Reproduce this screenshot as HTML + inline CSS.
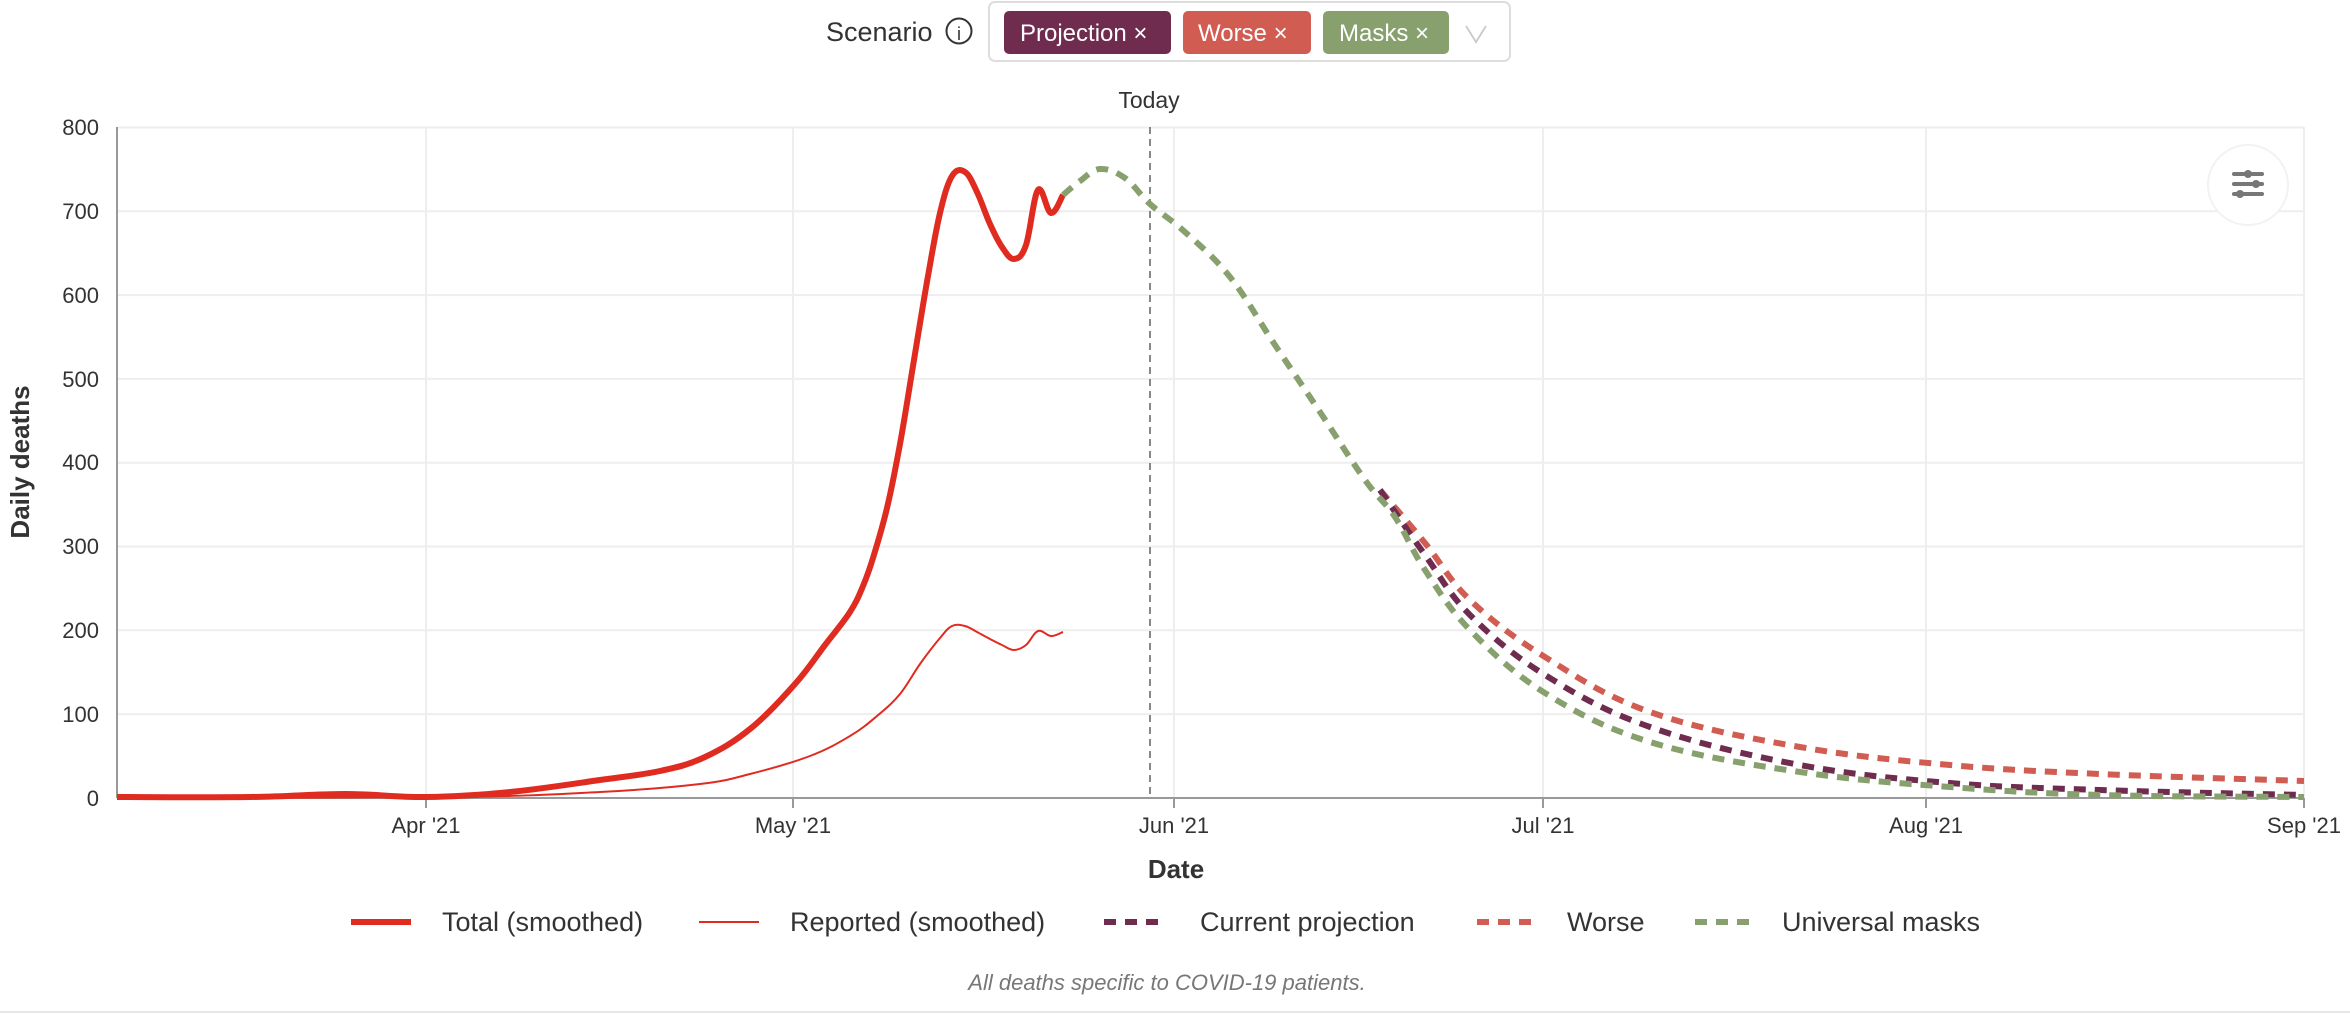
<!DOCTYPE html>
<html><head><meta charset="utf-8"><style>
html,body{margin:0;padding:0;background:#fff;}
svg{display:block;font-family:"Liberation Sans",sans-serif;}
</style></head><body>
<svg id="s" width="2350" height="1014" viewBox="0 0 2350 1014" xmlns="http://www.w3.org/2000/svg">
<text x="826" y="41" font-size="27" fill="#333">Scenario</text>
<circle cx="959" cy="31" r="12.5" fill="none" stroke="#333" stroke-width="2"/>
<text x="959" y="40" font-size="18" fill="#333" text-anchor="middle">i</text>
<rect x="989" y="2" width="521" height="59" rx="6" fill="#fff" stroke="#ddd" stroke-width="2"/>
<rect x="1004" y="11" width="167" height="43" rx="5" fill="#6f2c4f"/>
<text x="1020" y="41" font-size="24" fill="#fff">Projection ×</text>
<rect x="1183" y="11" width="128" height="43" rx="5" fill="#d05c52"/>
<text x="1198" y="41" font-size="24" fill="#fff">Worse ×</text>
<rect x="1323" y="11" width="126" height="43" rx="5" fill="#87a06e"/>
<text x="1339" y="41" font-size="24" fill="#fff">Masks ×</text>
<polyline points="1466,26 1476,42 1486,26" fill="none" stroke="#ccc" stroke-width="2"/>
<text x="1149" y="108" font-size="23" fill="#333" text-anchor="middle">Today</text>
<g stroke="#eeeeee" stroke-width="2">
<line x1="117" y1="127.5" x2="2304" y2="127.5"/><line x1="117" y1="211.3" x2="2304" y2="211.3"/>
<line x1="117" y1="295.1" x2="2304" y2="295.1"/><line x1="117" y1="378.9" x2="2304" y2="378.9"/>
<line x1="117" y1="462.7" x2="2304" y2="462.7"/><line x1="117" y1="546.5" x2="2304" y2="546.5"/>
<line x1="117" y1="630.3" x2="2304" y2="630.3"/><line x1="117" y1="714.1" x2="2304" y2="714.1"/>
<line x1="426" y1="127" x2="426" y2="798"/><line x1="793" y1="127" x2="793" y2="798"/>
<line x1="1174" y1="127" x2="1174" y2="798"/><line x1="1543" y1="127" x2="1543" y2="798"/>
<line x1="1926" y1="127" x2="1926" y2="798"/><line x1="2304" y1="127" x2="2304" y2="798"/>
</g>
<line x1="117" y1="127" x2="117" y2="798" stroke="#999" stroke-width="2"/>
<line x1="117" y1="798" x2="2304" y2="798" stroke="#999" stroke-width="2"/>
<g stroke="#999" stroke-width="2">
<line x1="426" y1="798" x2="426" y2="808"/><line x1="793" y1="798" x2="793" y2="808"/><line x1="1174" y1="798" x2="1174" y2="808"/><line x1="1543" y1="798" x2="1543" y2="808"/><line x1="1926" y1="798" x2="1926" y2="808"/><line x1="2304" y1="798" x2="2304" y2="808"/>
</g>
<g font-size="22" fill="#333" text-anchor="end">
<text x="99" y="135">800</text><text x="99" y="219">700</text><text x="99" y="303">600</text><text x="99" y="387">500</text><text x="99" y="470">400</text><text x="99" y="554">300</text><text x="99" y="638">200</text><text x="99" y="722">100</text><text x="99" y="806">0</text>
</g>
<g font-size="22" fill="#333" text-anchor="middle">
<text x="426" y="833">Apr '21</text><text x="793" y="833">May '21</text><text x="1174" y="833">Jun '21</text><text x="1543" y="833">Jul '21</text><text x="1926" y="833">Aug '21</text><text x="2304" y="833">Sep '21</text>
</g>
<text x="1176" y="878" font-size="26" font-weight="bold" fill="#333" text-anchor="middle">Date</text>
<text transform="translate(29,462) rotate(-90)" font-size="26" font-weight="bold" fill="#333" text-anchor="middle">Daily deaths</text>
<line x1="1150" y1="127" x2="1150" y2="798" stroke="#888" stroke-width="2" stroke-dasharray="7,5"/>
<circle cx="2248" cy="185" r="40" fill="#fff" stroke="#f2f2f2" stroke-width="2"/>
<g stroke="#777" stroke-width="4" stroke-linecap="round"><line x1="2234" y1="174" x2="2262" y2="174"/><line x1="2234" y1="184" x2="2262" y2="184"/><line x1="2234" y1="194" x2="2262" y2="194"/></g>
<g fill="#777"><circle cx="2248" cy="174" r="4"/><circle cx="2256" cy="184" r="4"/><circle cx="2240" cy="194" r="4"/></g>
<polyline class="sm" fill="none" stroke="#e02b20" stroke-width="2" points="117,798 450,797 600,792 700,784 750,774 810,756 850,736 877,716 900,694 920,664 940,638 952,626 965,626 977,632 990,639 1002,645 1014,650 1026,645 1038,631 1051,636 1063,632"/>
<polyline class="sm" fill="none" stroke="#e02b20" stroke-width="6" stroke-linejoin="round" points="117,797 250,797 345,794 426,797 510,792 600,780 660,771 705,757 750,729 795,684 825,645 850,612 863,586 873,558 887,508 900,444 913,366 928,276 940,213 952,176 965,172 977,192 990,224 1002,247 1014,259 1026,245 1038,190 1051,213 1063,195"/>
<polyline class="sm" fill="none" stroke="#d05c52" stroke-width="6" stroke-dasharray="12,9" points="1380,490 1425,543 1470,600 1545,657 1650,712 1800,747 1950,765 2100,774 2304,781"/>
<polyline class="sm" fill="none" stroke="#6f2c4f" stroke-width="6" stroke-dasharray="12,9" points="1380,490 1425,555 1470,615 1545,675 1650,727 1800,765 1950,783 2100,790 2304,795"/>
<polyline class="sm" fill="none" stroke="#87a06e" stroke-width="6" stroke-dasharray="12,9" points="1063,195 1080,181 1100,169 1125,178 1150,204 1185,232 1230,277 1275,345 1320,412 1365,480 1395,517 1425,570 1470,630 1545,693 1650,742 1800,772 1950,787 2100,795 2304,797"/>
<line x1="351" y1="922" x2="411" y2="922" stroke="#e02b20" stroke-width="6"/>
<text x="442" y="931" font-size="27" fill="#333">Total (smoothed)</text>
<line x1="699" y1="922" x2="759" y2="922" stroke="#e02b20" stroke-width="2"/>
<text x="790" y="931" font-size="27" fill="#333">Reported (smoothed)</text>
<line x1="1104" y1="922" x2="1167" y2="922" stroke="#6f2c4f" stroke-width="6" stroke-dasharray="12,9"/>
<text x="1200" y="931" font-size="27" fill="#333">Current projection</text>
<line x1="1477" y1="922" x2="1540" y2="922" stroke="#d05c52" stroke-width="6" stroke-dasharray="12,9"/>
<text x="1567" y="931" font-size="27" fill="#333">Worse</text>
<line x1="1695" y1="922" x2="1758" y2="922" stroke="#87a06e" stroke-width="6" stroke-dasharray="12,9"/>
<text x="1782" y="931" font-size="27" fill="#333">Universal masks</text>
<text x="1167" y="990" font-size="22" font-style="italic" fill="#777" text-anchor="middle">All deaths specific to COVID-19 patients.</text>
<line x1="0" y1="1012" x2="2350" y2="1012" stroke="#e6e6e6" stroke-width="2"/>
</svg>
<script>
(function(){
var NS="http://www.w3.org/2000/svg";
document.querySelectorAll("polyline.sm").forEach(function(pl){
  var p=pl.getAttribute("points").trim().split(/\s+/).map(function(s){return s.split(",").map(Number);});
  var d="M"+p[0][0]+","+p[0][1];
  for(var i=0;i<p.length-1;i++){
    var p0=p[i-1]||p[i],p1=p[i],p2=p[i+1],p3=p[i+2]||p2,t=0.18;
    var c1=[p1[0]+(p2[0]-p0[0])*t,p1[1]+(p2[1]-p0[1])*t];
    var c2=[p2[0]-(p3[0]-p1[0])*t,p2[1]-(p3[1]-p1[1])*t];
    d+=" C"+c1[0].toFixed(1)+","+c1[1].toFixed(1)+" "+c2[0].toFixed(1)+","+c2[1].toFixed(1)+" "+p2[0]+","+p2[1];
  }
  var path=document.createElementNS(NS,"path");
  ["fill","stroke","stroke-width","stroke-dasharray","stroke-linejoin"].forEach(function(a){var v=pl.getAttribute(a);if(v)path.setAttribute(a,v);});
  path.setAttribute("d",d);
  pl.parentNode.replaceChild(path,pl);
});
})();
</script>
</body></html>
